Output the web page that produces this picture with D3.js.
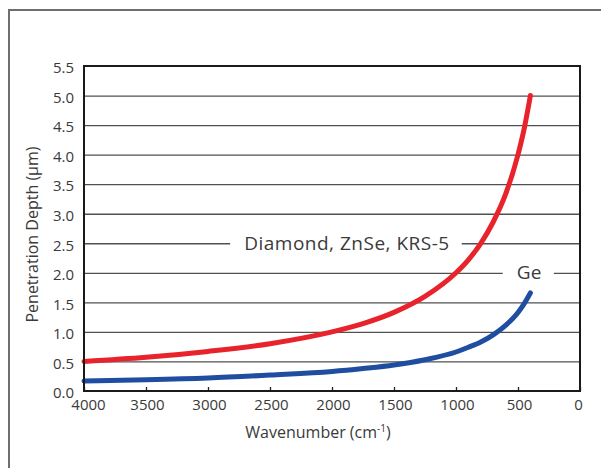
<!DOCTYPE html>
<html>
<head>
<meta charset="utf-8">
<script src="https://cdn.jsdelivr.net/npm/d3@7"></script>
<style>
  body { margin: 0; background: #fff; }
  svg text { font-family: "Open Sans", "Noto Sans", sans-serif; fill: #3a3a3a; }
</style>
</head>
<body>
<svg id="chart" width="601" height="468"></svg>
<script>
// values
const wavenumbers = [4000, 3500, 3000, 2500, 2000, 1750, 1500, 1250, 1000, 900, 800, 700, 600, 500, 450, 400];
const diamondDepth = [0.50, 0.57, 0.67, 0.80, 1.00, 1.14, 1.33, 1.60, 2.00, 2.22, 2.50, 2.86, 3.33, 4.00, 4.44, 5.00];
const geDepth = [0.17, 0.19, 0.22, 0.27, 0.33, 0.38, 0.44, 0.53, 0.66, 0.74, 0.83, 0.95, 1.11, 1.33, 1.48, 1.66];
const yTicks = [0, 0.5, 1, 1.5, 2, 2.5, 3, 3.5, 4, 4.5, 5, 5.5];
const xTicks = [4000, 3500, 3000, 2500, 2000, 1500, 1000, 500, 0];
const seriesLabels = ["Diamond, ZnSe, KRS-5", "Ge"];
const labelValues = [2.5, 2.0];

const svg = d3.select("svg#chart");
const margin = { top: 66, right: 21, bottom: 77, left: 84 };
const width = +svg.attr("width");
const height = +svg.attr("height");
const chartWidth = width - margin.left - margin.right;
const chartHeight = height - margin.top - margin.bottom;

// outer frame, runs off the right and bottom edge
svg.append("rect")
    .attr("x", 9).attr("y", 10)
    .attr("width", 620).attr("height", 480)
    .attr("fill", "none")
    .attr("stroke", "#6e6e6e")
    .attr("stroke-width", 2);

const chartArea = svg.append("g")
    .attr("transform", `translate(${margin.left},${margin.top})`);

const xScale = d3.scaleLinear().domain([4000, 0]).range([0, chartWidth]);
const yScale = d3.scaleLinear().domain([0, 5.5]).range([chartHeight, 0]);

// gridlines
let grid = d3.axisLeft(yScale)
    .tickValues(yTicks.slice(1, -1))
    .tickSize(-chartWidth)
    .tickFormat("");
chartArea.append("g")
    .attr("class", "gridlines")
    .call(grid)
    .call(g => g.select(".domain").remove())
    .call(g => g.selectAll("line").attr("stroke", "#505050").attr("stroke-width", 1.3));

// series labels sit on a gridline with a white gap round them
const labelG = chartArea.append("g");
labelG.selectAll("text.label")
    .data(seriesLabels)
    .join("text")
    .attr("class", "label")
    .attr("x", (d, i) => i === 0 ? xScale(2700) - 1 : xScale(510))
    .attr("y", (d, i) => yScale(labelValues[i]))
    .attr("dy", "0.35em")
    .attr("font-size", 19)
    .attr("letter-spacing", (d, i) => i === 0 ? 0.5 : 0.3)
    .text(d => d)
    .each(function () {
        const b = this.getBBox();
        labelG.insert("rect", "text")
            .attr("x", b.x - 14).attr("y", b.y)
            .attr("width", b.width + 26).attr("height", b.height)
            .attr("fill", "#fff");
    });

// curves
const line = d3.line()
    .x((d, i) => xScale(wavenumbers[i]))
    .y(d => yScale(d))
    .curve(d3.curveMonotoneX);

chartArea.append("path")
    .datum(geDepth)
    .attr("fill", "none")
    .attr("stroke", "#1f4ea0")
    .attr("stroke-width", 5)
    .attr("stroke-linecap", "round")
    .attr("d", line);

chartArea.append("path")
    .datum(diamondDepth)
    .attr("fill", "none")
    .attr("stroke", "#e8232b")
    .attr("stroke-width", 5)
    .attr("stroke-linecap", "round")
    .attr("d", line);

// axes
let leftAxis = d3.axisLeft(yScale)
    .tickValues(yTicks)
    .tickSize(0)
    .tickPadding(10)
    .tickFormat(d3.format(".1f"));
chartArea.append("g")
    .attr("class", "y axis")
    .call(leftAxis)
    .call(g => g.select(".domain").remove())
    .call(g => g.selectAll("text")
        .attr("font-size", 15)
        .attr("font-family", null)
        .attr("fill", null)
        .attr("dy", "0.45em"));

let bottomAxis = d3.axisBottom(xScale)
    .tickValues(xTicks)
    .tickSize(-4)
    .tickPadding(8)
    .tickFormat(d3.format("d"));
chartArea.append("g")
    .attr("class", "x axis")
    .attr("transform", `translate(0,${chartHeight})`)
    .call(bottomAxis)
    .call(g => g.select(".domain").remove())
    .call(g => g.selectAll("line").attr("stroke", "#222").attr("stroke-width", 1.3))
    .call(g => g.selectAll("text")
        .attr("font-size", 15)
        .attr("font-family", null)
        .attr("fill", null)
        .attr("dx", d => d === 4000 ? 4 : d === 0 ? -2 : 1));

// plot frame
chartArea.append("rect")
    .attr("width", chartWidth).attr("height", chartHeight)
    .attr("fill", "none")
    .attr("stroke", "#1a1a1a")
    .attr("stroke-width", 2);

// axis titles
svg.append("text")
    .attr("transform", `translate(38,${margin.top + chartHeight / 2 + 6}) rotate(-90)`)
    .attr("text-anchor", "middle")
    .attr("font-size", 16)
    .text("Penetration Depth (µm)");

const xTitle = svg.append("text")
    .attr("x", margin.left + chartWidth / 2 - 14)
    .attr("y", 438)
    .attr("text-anchor", "middle")
    .attr("font-size", 16);
xTitle.append("tspan").text("Wavenumber (cm");
xTitle.append("tspan").attr("dy", -6).attr("font-size", 10).text("-1");
xTitle.append("tspan").attr("dy", 6).text(")");
</script>
</body>
</html>
